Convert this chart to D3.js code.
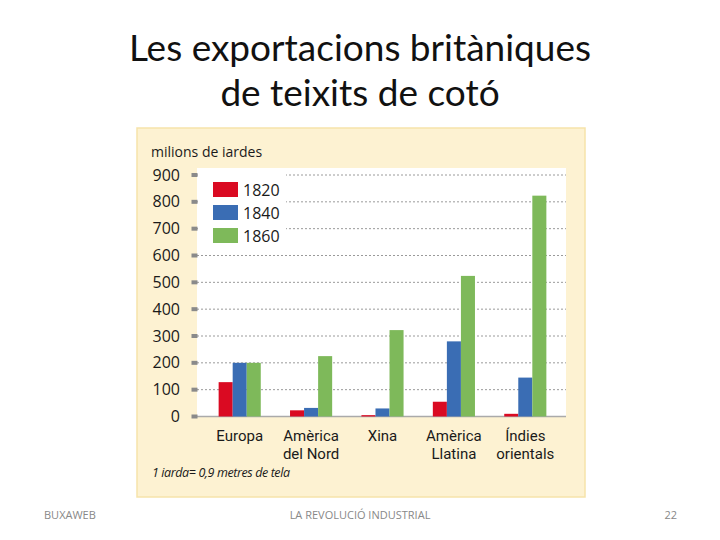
<!DOCTYPE html>
<html><head><meta charset="utf-8">
<script src="https://cdn.jsdelivr.net/npm/d3@7"></script>
<style>body{margin:0;background:#fff}svg{display:block}</style>
</head><body>
<script>
const categories = [["Europa"], ["Amèrica", "del Nord"], ["Xina"], ["Amèrica", "Llatina"], ["Índies", "orientals"]];
const series = ["1820", "1840", "1860"];
const v1820 = [128, 23, 5, 55, 10];
const v1840 = [200, 32, 30, 280, 145];
const v1860 = [200, 225, 322, 524, 823];
const yTicks = [0, 100, 200, 300, 400, 500, 600, 700, 800, 900];
const colors = ["#DA0A22", "#3A6DB4", "#7EB95A"];

const values = [v1820, v1840, v1860];
const W = 720, H = 540;
const svg = d3.select("body").append("svg").attr("width", W).attr("height", H);

// Title
const tf = "Lato, 'Open Sans', sans-serif";
svg.append("text").attr("x", 360).attr("y", 61).attr("text-anchor", "middle")
  .style("font-family", tf).style("font-size", "37px").attr("fill", "#111").text("Les exportacions britàniques");
svg.append("text").attr("x", 360).attr("y", 106).attr("text-anchor", "middle")
  .style("font-family", tf).style("font-size", "37px").attr("fill", "#111").text("de teixits de cotó");

// Footer
const ff = "'Open Sans', sans-serif";
svg.append("text").attr("x", 44).attr("y", 519).text("BUXAWEB").attr("fill", "#888").style("font-family", ff).style("font-size", "11px");
svg.append("text").attr("x", 360).attr("y", 519).attr("text-anchor", "middle").text("LA REVOLUCIÓ INDUSTRIAL").attr("fill", "#888").style("font-family", ff).style("font-size", "11px");
svg.append("text").attr("x", 677).attr("y", 519).attr("text-anchor", "end").text("22").attr("fill", "#888").style("font-family", ff).style("font-size", "11px");

// Panel
svg.append("rect").attr("x", 137).attr("y", 128).attr("width", 448).attr("height", 369)
  .attr("fill", "#FDF2D2").attr("stroke", "#F6E3AA").attr("stroke-width", 1.5);

const plotL = 197, plotR = 566, plotT = 168;
const y = d3.scaleLinear().domain([0, 900]).range([416.5, 175]);
const x = d3.scaleBand().domain(d3.range(categories.length)).range([204, 561]).paddingInner(0.41).paddingOuter(0.205);
const xs = d3.scaleBand().domain(series).range([0, x.bandwidth()]);

svg.append("rect").attr("x", plotL).attr("y", plotT).attr("width", plotR - plotL).attr("height", y(0) - plotT).attr("fill", "#fff");

const cf = "'Open Sans', 'Noto Sans', sans-serif";
// Grid lines
svg.append("g").selectAll("line").data(yTicks.filter(d => d > 0)).join("line")
  .attr("x1", plotL).attr("x2", plotR).attr("y1", d => y(d)).attr("y2", d => y(d))
  .attr("stroke", "#9a9a9a").attr("stroke-width", 1).attr("stroke-dasharray", "2,2");

// Legend box (covers grid)
svg.append("rect").attr("x", plotL + 1).attr("y", plotT + 1).attr("width", 88).attr("height", 80).attr("fill", "#fff");

// baseline
svg.append("line").attr("x1", plotL).attr("x2", plotR).attr("y1", y(0)).attr("y2", y(0)).attr("stroke", "#aaa").attr("stroke-width", 1.5);

// tick squares and labels
const tg = svg.append("g").selectAll("g").data(yTicks).join("g");
tg.append("rect").attr("x", 191.5).attr("y", d => y(d) - 2).attr("width", 6).attr("height", 4).attr("fill", "#8a8a8a");
tg.append("text").attr("x", 180).attr("y", d => y(d) + 5.5).attr("text-anchor", "end").text(d => d)
  .attr("fill", "#1a1a1a").style("font-family", cf).style("font-size", "16px");

svg.append("text").attr("x", 151).attr("y", 157).text("milions de iardes").attr("fill", "#1a1a1a")
  .style("font-family", cf).style("font-size", "14px");

// Bars
const groups = svg.append("g").selectAll("g").data(categories).join("g")
  .attr("transform", (d, i) => `translate(${x(i)},0)`);
groups.selectAll("rect").data((d, i) => series.map((s, k) => ({s, k, v: values[k][i]}))).join("rect")
  .attr("x", d => xs(d.s)).attr("width", xs.bandwidth())
  .attr("y", d => y(d.v)).attr("height", d => y(0) - y(d.v))
  .attr("fill", d => colors[d.k]);

// Category labels
groups.each(function(d, i) {
  const g = d3.select(this);
  d.forEach((line, j) => g.append("text").attr("text-anchor", "middle").attr("fill", "#1a1a1a")
    .style("font-family", "Roboto, sans-serif").style("font-size", "15px")
    .attr("x", x.bandwidth() / 2).attr("y", 440.5 + j * 18).text(line));
});

// Legend
const lg = svg.append("g").selectAll("g").data(series).join("g");
lg.append("rect").attr("x", 213).attr("y", (d, i) => 182 + i * 23).attr("width", 25).attr("height", 15).attr("fill", (d, i) => colors[i]);
lg.append("text").attr("x", 243).attr("y", (d, i) => 196 + i * 23).text(d => d).attr("fill", "#1a1a1a")
  .style("font-family", cf).style("font-size", "16px");

// Note
svg.append("text").attr("x", 152).attr("y", 477).text("1 iarda= 0,9 metres de tela").attr("fill", "#1a1a1a")
  .style("font-family", cf).style("font-style", "italic").style("font-size", "12.5px").attr("letter-spacing", "-0.4");
</script>
</body></html>
